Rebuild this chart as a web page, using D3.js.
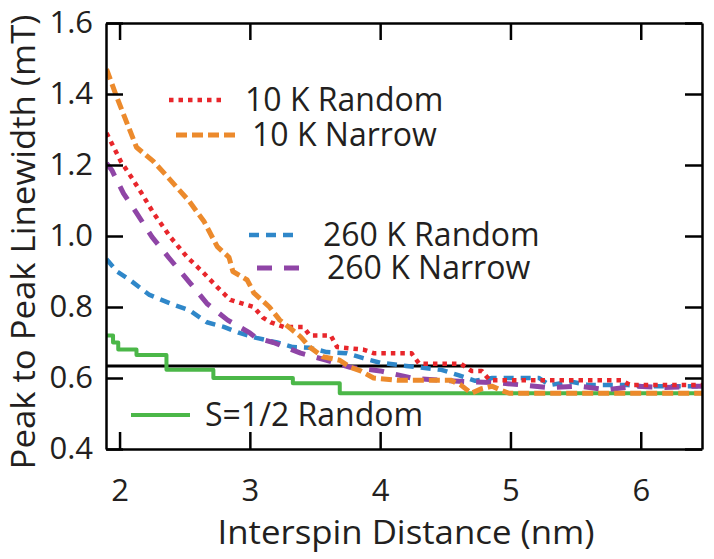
<!DOCTYPE html>
<html><head><meta charset="utf-8">
<script src="https://cdn.jsdelivr.net/npm/d3@7/dist/d3.min.js"></script>
<style>
body{margin:0;background:#fff}
svg{display:block}
text{font-family:"Open Sans",sans-serif;fill:#231f20}
</style>
</head><body>
<svg id="c" width="714" height="559"></svg>
<script>
// ---------- data ----------
const xTicks = [2, 3, 4, 5, 6];
const yTicks = [0.4, 0.6, 0.8, 1.0, 1.2, 1.4, 1.6];
const xLabel = "Interspin Distance (nm)";
const yLabel = "Peak to Peak Linewidth (mT)";
const seriesNames = ["10 K Random", "10 K Narrow", "260 K Random", "260 K Narrow", "S=1/2 Random"];

const random10K_x = [1.9, 2.01, 2.09, 2.17, 2.26, 2.39, 2.52, 2.64, 2.75, 2.85, 3.03, 3.10, 3.16, 3.26, 3.41, 3.46, 3.62, 3.67, 3.87, 3.95, 4.24, 4.30, 4.62, 4.70, 4.78, 4.84, 5.85, 5.92, 6.47];
const random10K_y = [1.29, 1.21, 1.166, 1.12, 1.065, 0.997, 0.94, 0.898, 0.856, 0.82, 0.80, 0.77, 0.757, 0.744, 0.744, 0.72, 0.72, 0.687, 0.68, 0.67, 0.67, 0.64, 0.64, 0.62, 0.62, 0.594, 0.594, 0.58, 0.58];

const narrow10K_x = [1.9, 1.98, 2.13, 2.26, 2.36, 2.53, 2.65, 2.75, 2.84, 2.87, 2.98, 3.03, 3.15, 3.23, 3.31, 3.39, 3.46, 3.56, 3.69, 3.77, 3.85, 3.95, 4.13, 4.54, 4.62, 4.70, 4.78, 4.86, 4.93, 4.99, 6.47];
const narrow10K_y = [1.47, 1.39, 1.25, 1.21, 1.17, 1.10, 1.04, 0.97, 0.94, 0.90, 0.876, 0.84, 0.80, 0.763, 0.74, 0.716, 0.687, 0.66, 0.65, 0.63, 0.62, 0.60, 0.594, 0.594, 0.58, 0.557, 0.57, 0.577, 0.565, 0.557, 0.557];

const random260K_x = [1.9, 1.98, 2.08, 2.23, 2.39, 2.54, 2.67, 2.8, 2.92, 3.05, 3.21, 3.33, 3.46, 3.59, 3.74, 3.87, 4.0, 4.2, 4.47, 4.6, 4.73, 4.86, 5.22, 5.3, 5.46, 5.6, 5.9, 6.0, 6.47];
const random260K_y = [0.935, 0.90, 0.876, 0.834, 0.81, 0.79, 0.757, 0.744, 0.727, 0.713, 0.70, 0.687, 0.685, 0.673, 0.67, 0.656, 0.643, 0.634, 0.623, 0.608, 0.592, 0.60, 0.60, 0.58, 0.59, 0.58, 0.58, 0.577, 0.577];

const narrow260K_x = [1.9, 1.94, 2.03, 2.13, 2.25, 2.38, 2.54, 2.67, 2.83, 3.0, 3.05, 3.18, 3.39, 3.59, 3.77, 4.0, 4.24, 4.44, 4.65, 4.88, 5.1, 5.3, 5.53, 5.74, 5.97, 6.18, 6.42, 6.47];
const narrow260K_y = [1.205, 1.186, 1.12, 1.065, 0.997, 0.938, 0.868, 0.81, 0.763, 0.727, 0.713, 0.70, 0.67, 0.65, 0.63, 0.62, 0.60, 0.594, 0.59, 0.587, 0.58, 0.573, 0.577, 0.567, 0.577, 0.573, 0.577, 0.577];

const spinHalf_x = [1.9, 1.95, 1.99, 2.13, 2.36, 2.72, 3.33, 3.69, 6.47];
const spinHalf_y = [0.72, 0.70, 0.68, 0.665, 0.623, 0.60, 0.585, 0.557, 0.557];

const referenceLevel = 0.634;

// ---------- layout ----------
const L = 106, R = 702, T = 23, B = 449;
const svg = d3.select("#c");
const x = d3.scaleLinear().domain([1.896, 6.47]).range([L, R]);
const y = d3.scaleLinear().domain([0.4, 1.6]).range([B, T]);

const styles = [
  {color: "#e8262b", dash: "4.5,5", width: 4.5, step: false},
  {color: "#ec8a2c", dash: "11,5", width: 5, step: false},
  {color: "#2f87c9", dash: "10,7", width: 4.5, step: false},
  {color: "#8f45a6", dash: "15,12", width: 5, step: false},
  {color: "#4bb748", dash: null, width: 4, step: true}
];
const seriesX = [random10K_x, narrow10K_x, random260K_x, narrow260K_x, spinHalf_x];
const seriesY = [random10K_y, narrow10K_y, random260K_y, narrow260K_y, spinHalf_y];

svg.append("defs").append("clipPath").attr("id", "clip")
  .append("rect").attr("x", L).attr("y", T).attr("width", R - L).attr("height", B - T);

const plot = svg.append("g").attr("clip-path", "url(#clip)");

// reference line
plot.append("line")
  .attr("x1", x.range()[0]).attr("x2", x.range()[1])
  .attr("y1", y(referenceLevel)).attr("y2", y(referenceLevel))
  .attr("stroke", "#000").attr("stroke-width", 3);

// series
const order = [4, 2, 3, 0, 1];
order.forEach(i => {
  const pts = seriesX[i].map((v, k) => [v, seriesY[i][k]]);
  const line = d3.line().x(d => x(d[0])).y(d => y(d[1]))
    .curve(styles[i].step ? d3.curveStepAfter : d3.curveLinear);
  plot.append("path").datum(pts)
    .attr("d", line)
    .attr("fill", "none")
    .attr("stroke", styles[i].color)
    .attr("stroke-width", styles[i].width)
    .attr("stroke-dasharray", styles[i].dash)
    .attr("stroke-linejoin", "round");
});

// axes
const tickLen = 17;
const fmt = d3.format(".1f");
const gx = svg.append("g").attr("transform", `translate(0,${B})`)
  .call(d3.axisBottom(x).tickValues(xTicks).tickSizeInner(-tickLen).tickSizeOuter(0).tickPadding(30).tickFormat(d3.format("d")));
const gx2 = svg.append("g").attr("transform", `translate(0,${T})`)
  .call(d3.axisTop(x).tickValues(xTicks).tickSizeInner(-tickLen).tickSizeOuter(0).tickFormat(""));
const gy = svg.append("g").attr("transform", `translate(${L},0)`)
  .call(d3.axisLeft(y).tickValues(yTicks).tickSizeInner(-tickLen).tickSizeOuter(0).tickPadding(13).tickFormat(fmt));
const gy2 = svg.append("g").attr("transform", `translate(${R},0)`)
  .call(d3.axisRight(y).tickValues(yTicks).tickSizeInner(-tickLen).tickSizeOuter(0).tickFormat(""));

[gx, gx2, gy, gy2].forEach(g => {
  g.selectAll("path.domain").attr("stroke", "#000").attr("stroke-width", 2.5);
  g.selectAll(".tick line").attr("stroke", "#000").attr("stroke-width", 2.5);
  g.selectAll(".tick text").attr("font-family", "'Open Sans', sans-serif").attr("font-size", 31).attr("fill", "#231f20");
});

function fit(sel, w) {
  sel.attr("textLength", w).attr("lengthAdjust", "spacingAndGlyphs");
}

// axis titles
svg.append("text").attr("x", (L + R) / 2 + 2).attr("y", 544)
  .attr("text-anchor", "middle").attr("font-size", 32).text(xLabel).call(fit, 377);
svg.append("text").attr("transform", "translate(35,242) rotate(-90)")
  .attr("text-anchor", "middle").attr("font-size", 32).text(yLabel).call(fit, 455);

// legend
const legendLayout = [
  {x1: 169, x2: 223, y: 100, tx: 245},
  {x1: 176, x2: 235, y: 135, tx: 252},
  {x1: 249, x2: 299, y: 235, tx: 323},
  {x1: 257, x2: 300, y: 268, tx: 327},
  {x1: 131, x2: 190, y: 415, tx: 205}
];
seriesNames.forEach((name, i) => {
  const p = legendLayout[i];
  svg.append("line").attr("x1", p.x1).attr("x2", p.x2).attr("y1", p.y).attr("y2", p.y)
    .attr("stroke", styles[i].color).attr("stroke-width", styles[i].width)
    .attr("stroke-dasharray", styles[i].dash);
  svg.append("text").attr("x", p.tx).attr("y", p.y + 11).attr("font-size", 32)
    .text(name);
});
</script>
</body></html>
